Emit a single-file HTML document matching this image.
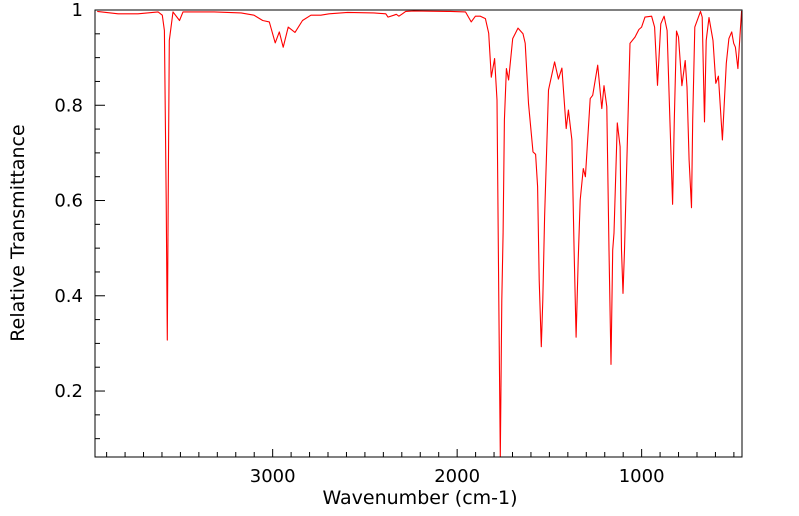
<!DOCTYPE html>
<html><head><meta charset="utf-8"><style>
html,body{margin:0;padding:0;background:#fff;}
svg{display:block;font-family:"DejaVu Sans","Liberation Sans",sans-serif;}
</style></head><body>
<svg id="chart" width="799" height="516" viewBox="0 0 799 516">
<g id="axes"></g>
<polyline id="spectrum" fill="none" stroke="#ff0000" stroke-width="1.1" stroke-linejoin="round"></polyline>
<rect x="95" y="10" width="647" height="447" fill="none" stroke="#000" stroke-width="1"></rect>
<text x="420" y="504" font-size="19" text-anchor="middle">Wavenumber (cm-1)</text>
<text transform="translate(24,233) rotate(-90)" font-size="19" text-anchor="middle">Relative Transmittance</text>
</svg>
<script>
const wavenumbers = [3951,3838,3730,3621,3598,3587,3577,3571,3566,3560,3540,3505,3486,3317,3171,3101,3054,3018,2986,2964,2943,2916,2879,2838,2793,2739,2694,2594,2451,2387,2375,2343,2330,2316,2297,2279,2236,2054,2036,1955,1924,1901,1874,1847,1829,1815,1797,1784,1774,1766,1758,1751,1744,1733,1721,1699,1670,1643,1631,1613,1589,1575,1564,1555,1544,1536,1526,1505,1472,1451,1432,1409,1397,1378,1366,1355,1344,1333,1316,1305,1279,1265,1238,1216,1204,1189,1177,1166,1157,1150,1132,1117,1109,1101,1093,1081,1063,1036,1015,1000,982,946,930,914,896,878,862,847,832,823,811,800,782,764,754,743,730,723,712,681,672,659,650,635,613,598,584,562,541,527,512,501,492,478,465,458];
const transmittance = [0.997,0.992,0.992,0.996,0.989,0.957,0.601,0.307,0.601,0.936,0.996,0.978,0.996,0.996,0.994,0.989,0.978,0.975,0.931,0.954,0.922,0.964,0.953,0.978,0.989,0.989,0.992,0.995,0.994,0.992,0.985,0.989,0.991,0.987,0.992,0.997,0.998,0.997,0.997,0.996,0.975,0.987,0.987,0.982,0.951,0.859,0.898,0.811,0.391,0.05,0.391,0.532,0.769,0.877,0.853,0.940,0.962,0.950,0.930,0.804,0.702,0.697,0.629,0.433,0.293,0.391,0.566,0.832,0.891,0.855,0.878,0.751,0.790,0.727,0.496,0.313,0.475,0.601,0.667,0.650,0.814,0.821,0.884,0.793,0.841,0.797,0.496,0.256,0.496,0.532,0.763,0.713,0.496,0.405,0.496,0.671,0.930,0.943,0.959,0.964,0.985,0.987,0.964,0.842,0.971,0.987,0.957,0.769,0.592,0.769,0.956,0.943,0.841,0.894,0.838,0.685,0.585,0.769,0.964,0.997,0.985,0.765,0.936,0.984,0.936,0.846,0.861,0.727,0.888,0.940,0.954,0.930,0.922,0.877,0.957,0.998];
const xTickLabels = [3000,2000,1000];
const yTickLabels = ["0.2","0.4","0.6","0.8","1"];

const X0=95,X1=742,Y0=10,Y1=457;
const xMax=3963,xMin=456,yMin=0.0615,yMax=1.0;
const sx = w => X0 + (xMax - w)/(xMax - xMin)*(X1-X0);
const sy = t => Y1 - (Math.max(t,yMin) - yMin)/(yMax - yMin)*(Y1-Y0);
const NS="http://www.w3.org/2000/svg";
const axes=document.getElementById('axes');
function line(x1,y1,x2,y2,name){
  const l=document.createElementNS(NS,'line');
  l.setAttribute('x1',x1);l.setAttribute('y1',y1);l.setAttribute('x2',x2);l.setAttribute('y2',y2);
  l.setAttribute('stroke','#000');l.setAttribute('stroke-width','1');
  
  
  axes.appendChild(l);
}
function text(x,y,s,anchor,name){
  const t=document.createElementNS(NS,'text');
  t.setAttribute('x',x);t.setAttribute('y',y);t.setAttribute('font-size','18');t.setAttribute('text-anchor',anchor);
  t.textContent=s;
  
  
  axes.appendChild(t);
}
for(let w=500; w<=3900; w+=100){
  const x=sx(w); if(x<X0||x>X1) continue;
  const major = w%1000===0;
  line(x,Y1,x,Y1-(major?8:5),'x-tick');
}
xTickLabels.forEach(v=>text(sx(v),Y1+25,String(v),'middle','x-tick-label'));
for(let k=2;k<=20;k++){
  const v=k*0.05; const y=sy(v);
  const major = (k%4===0);
  line(X0,y,X0+(major?10:5),y,'y-tick');
}
yTickLabels.forEach(s=>text(X0-12,sy(parseFloat(s))+6,s,'end','y-tick-label'));
const pts=wavenumbers.map((w,i)=>sx(w).toFixed(1)+','+sy(transmittance[i]).toFixed(1)).join(' ');
document.getElementById('spectrum').setAttribute('points',pts);
</script>
</body></html>
